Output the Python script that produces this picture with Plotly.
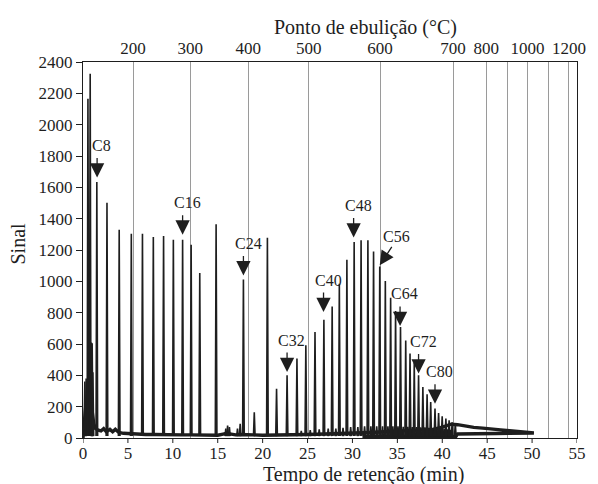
import plotly.graph_objects as go

# ---------------- data ----------------
# major / solvent peaks: retention time (min) and signal height
peak_time = [0.20, 0.35, 0.55, 0.80, 0.93, 1.02, 1.10,
             1.54, 2.67, 4.03, 5.38, 6.62, 7.83, 8.97, 10.06, 11.09, 12.04, 13.00, 14.82,
             15.90, 16.10, 16.30, 17.20, 17.50,
             17.86, 19.07, 20.53, 21.55, 22.72, 23.82, 24.81, 25.83, 26.82, 27.74, 28.54,
             29.38, 30.19, 30.96, 31.72, 32.35, 33.04, 33.66, 34.25, 34.80, 35.35, 35.93,
             36.41, 36.88, 37.36, 37.84, 38.31, 38.71, 39.19, 39.59, 39.99, 40.40, 40.76,
             41.10, 41.45]
peak_height = [360, 380, 2166, 2325, 610, 605, 420,
               1634, 1502, 1330, 1304, 1304, 1283, 1289, 1266, 1266, 1234, 1053, 1364,
               60, 80, 70, 60, 90,
               1011, 164, 1278, 315, 400, 507, 592, 677, 755, 840, 985,
               1138, 1251, 1262, 1262, 1191, 1095, 1002, 896, 811, 708, 623,
               539, 479, 400, 326, 279, 230, 188, 160, 138, 124, 113,
               100, 90]

# small peaks between the main n-alkane peaks
minor_time = [24.30, 25.30, 26.30, 27.30, 28.15, 28.95, 29.80, 30.60, 31.35, 32.05,
              32.70, 33.35, 33.95, 34.50, 35.07, 35.65, 36.17, 36.65, 37.12, 37.60,
              38.07, 38.50, 38.95, 39.40, 39.80, 40.20, 40.60, 40.95]
minor_height = [45, 50, 55, 60, 60, 65, 70, 70, 75, 75,
                75, 75, 75, 75, 75, 72, 72, 70, 70, 68,
                68, 65, 65, 62, 60, 58, 55, 52]

# baseline of the chromatogram
base_time = [0.00, 0.15, 0.30, 0.60, 1.00, 1.20, 1.40, 1.70, 2.00, 2.30, 2.60, 3.00,
             3.30, 3.60, 4.00, 4.50, 5.00, 6.00, 7.00, 8.00, 9.00, 10.00, 11.00, 12.00,
             13.00, 14.00, 15.00, 15.60, 16.00, 16.50, 17.00, 17.50, 18.00, 19.00, 20.00,
             21.00, 22.00, 23.00, 24.00, 25.00, 26.00, 27.00, 28.00, 29.00, 30.00, 31.00,
             31.30, 32.00, 33.00, 34.00, 35.00, 36.00, 37.00, 38.00, 39.00, 40.00, 41.00,
             41.70, 42.50, 43.50, 44.50, 45.50, 46.50, 47.50, 48.50, 49.50, 50.20]
base_value = [0, 120, 200, 220, 180, 90, 60, 50, 45, 60, 40, 55,
              40, 55, 35, 30, 28, 25, 22, 22, 20, 20, 20, 20,
              20, 18, 18, 25, 30, 25, 20, 22, 20, 20, 18,
              18, 18, 20, 22, 22, 24, 25, 26, 28, 30, 32,
              33, 35, 38, 40, 42, 44, 46, 48, 55, 70, 88,
              85, 75, 68, 63, 60, 52, 46, 42, 38, 34]
# trace returning along the bottom (end of the recorded run)
return_time = [50.20, 46.00, 41.70, 41.50, 31.30, 31.30]
return_value = [32, 29, 26, 8, 8, 25]

# arrow labels
label_text = ["C8", "C16", "C24", "C32", "C40", "C48", "C56", "C64", "C72", "C80"]
label_time = [1.57, 11.09, 17.86, 22.72, 26.78, 30.13, 33.04, 35.30, 37.36, 39.19]
label_tip = [1662, 1298, 1038, 421, 804, 1279, 1102, 715, 411, 219]

# top axis: boiling points placed at retention times
bp_time = [5.57, 11.93, 18.41, 25.14, 33.07, 41.20, 44.90, 47.23, 49.50, 51.80, 54.10]
bp_label = ["200", "300", "400", "500", "600", "700", "800", "", "1000", "", "1200"]

x_ticks = [0, 5, 10, 15, 20, 25, 30, 35, 40, 45, 50, 55]
y_ticks = [0, 200, 400, 600, 800, 1000, 1200, 1400, 1600, 1800, 2000, 2200, 2400]

# ---------------- figure ----------------
FONT = "Liberation Serif"
INK = "#1e1e1e"
HALF_W = 0.09     # half width of a peak (min)
FOOT = 12         # level of the peak feet

def spikes(times, heights):
    xs, ys = [], []
    for t, h in zip(times, heights):
        xs += [t - HALF_W, t, t + HALF_W, None]
        ys += [FOOT, h, FOOT, None]
    return xs, ys

fig = go.Figure()

fig.add_trace(go.Scatter(x=base_time + return_time, y=base_value + return_value,
                         mode="lines", line=dict(color=INK, width=3.4),
                         hoverinfo="skip", showlegend=False))
mx, my = spikes(minor_time, minor_height)
fig.add_trace(go.Scatter(x=mx, y=my, mode="lines", line=dict(color=INK, width=1.6),
                         hoverinfo="skip", showlegend=False))
px_, py_ = spikes(peak_time, peak_height)
fig.add_trace(go.Scatter(x=px_, y=py_, mode="lines", line=dict(color=INK, width=1.6),
                         hoverinfo="skip", showlegend=False))
# carrier for the top axis
fig.add_trace(go.Scatter(x=[], y=[], xaxis="x2", yaxis="y", showlegend=False))

annotations = []
for i, (txt, t, tip) in enumerate(zip(label_text, label_time, label_tip)):
    slanted = txt == "C56"
    annotations.append(dict(x=t, y=tip, xref="x", yref="y", text="", showarrow=True,
                            ax=13 if slanted else 0, ay=-20 if slanted else -21,
                            arrowhead=2, arrowsize=2.2, arrowwidth=1.3,
                            arrowcolor=INK, font=dict(size=1)))
    annotations.append(dict(x=t, y=tip, xref="x", yref="y", text=txt, showarrow=False,
                            xshift=16.5 if slanted else 4.7,
                            yshift=28.5 if slanted else 32,
                            font=dict(family=FONT, size=16, color=INK)))

annotations += [
    dict(text="Tempo de retenção (min)", xref="paper", yref="paper", x=0.567, y=-0.096,
         xanchor="center", yanchor="middle", showarrow=False,
         font=dict(family=FONT, size=20, color=INK)),
    dict(text="Ponto de ebulição (°C)", xref="paper", yref="paper", x=0.571, y=1.092,
         xanchor="center", yanchor="middle", showarrow=False,
         font=dict(family=FONT, size=20, color=INK)),
    dict(text="Sinal", xref="paper", yref="paper", x=-0.131, y=0.518, textangle=-90,
         xanchor="center", yanchor="middle", showarrow=False,
         font=dict(family=FONT, size=20, color=INK)),
]

# short outside tick marks of the bottom axis
TICK_LEN = 5 / 376.0
shapes = [dict(type="line", xref="x", yref="paper", x0=v, x1=v, y0=0, y1=-TICK_LEN,
               line=dict(color=INK, width=1), layer="above") for v in x_ticks]

fig.update_layout(
    width=598, height=484,
    margin=dict(l=83, r=14, t=62, b=46, pad=0),
    paper_bgcolor="white", plot_bgcolor="white",
    font=dict(family=FONT, size=17, color=INK),
    showlegend=False,
    xaxis=dict(range=[0, 55], tickmode="array", tickvals=x_ticks,
               ticks="", showline=True, linecolor=INK, linewidth=1,
               showgrid=False, zeroline=False,
               tickfont=dict(family=FONT, size=17, color=INK)),
    xaxis2=dict(range=[0, 55], overlaying="x", side="top", anchor="y",
                tickmode="array", tickvals=bp_time, ticktext=bp_label, ticks="",
                showline=True, linecolor=INK, linewidth=1,
                showgrid=True, gridcolor="#9a9a9a", gridwidth=1.2, zeroline=False,
                tickfont=dict(family=FONT, size=17, color=INK)),
    yaxis=dict(range=[0, 2400], tickmode="array", tickvals=y_ticks,
               ticks="outside", ticklen=6, tickwidth=1, tickcolor=INK,
               showline=True, linecolor=INK, linewidth=1, mirror=True,
               showgrid=False, zeroline=False,
               tickfont=dict(family=FONT, size=17, color=INK)),
    annotations=annotations,
    shapes=shapes,
)

fig.write_html("out.html")
